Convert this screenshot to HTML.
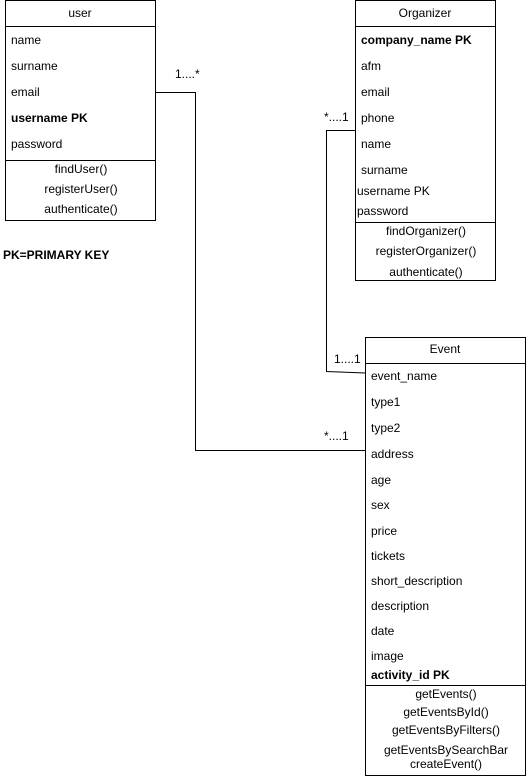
<!DOCTYPE html>
<html><head><style>body{margin:0;background:#fff}svg{display:block}text{font-family:"Liberation Sans",Arial,sans-serif;font-size:12px;fill:#000}</style></head><body>
<svg width="526" height="776" viewBox="0 0 526 776" xmlns="http://www.w3.org/2000/svg">
<g fill="none" stroke="#000" stroke-width="1">
<rect x="5.5" y="0.5" width="150" height="220"/>
<line x1="5" y1="26.5" x2="156" y2="26.5"/>
<line x1="5" y1="160.5" x2="156" y2="160.5"/>
<rect x="355.5" y="0.5" width="140" height="280"/>
<line x1="355" y1="26.5" x2="496" y2="26.5"/>
<line x1="355" y1="222.5" x2="496" y2="222.5"/>
<rect x="365.5" y="337.5" width="160" height="438"/>
<line x1="365" y1="363.5" x2="526" y2="363.5"/>
<line x1="365" y1="685.5" x2="526" y2="685.5"/>
<polyline points="156,92.5 195.5,92.5 195.5,450.5 365,450.5"/>
<polyline points="355,130.5 326.5,130.5 326.5,371.5 365,373"/>
</g>
<text x="80" y="17" text-anchor="middle">user</text>
<text x="11" y="44">name</text>
<text x="11" y="70">surname</text>
<text x="11" y="96">email</text>
<text x="11" y="122" font-weight="bold">username PK</text>
<text x="11" y="148">password</text>
<text x="81" y="173" text-anchor="middle">findUser()</text>
<text x="81" y="193" text-anchor="middle">registerUser()</text>
<text x="81" y="213" text-anchor="middle">authenticate()</text>
<text x="3" y="259" font-weight="bold" font-size="11">PK=PRIMARY KEY</text>
<text x="175" y="78">1....*</text>
<text x="425" y="17" text-anchor="middle">Organizer</text>
<text x="361" y="44" font-weight="bold">company_name PK</text>
<text x="361" y="70">afm</text>
<text x="361" y="96">email</text>
<text x="361" y="122">phone</text>
<text x="361" y="148">name</text>
<text x="361" y="174">surname</text>
<text x="357" y="195">username PK</text>
<text x="357" y="215">password</text>
<text x="426" y="235" text-anchor="middle">findOrganizer()</text>
<text x="426" y="255" text-anchor="middle">registerOrganizer()</text>
<text x="426" y="276" text-anchor="middle">authenticate()</text>
<text x="324" y="121">*....1</text>
<text x="445" y="353" text-anchor="middle">Event</text>
<text x="371" y="380">event_name</text>
<text x="371" y="406">type1</text>
<text x="371" y="432">type2</text>
<text x="371" y="458">address</text>
<text x="371" y="484">age</text>
<text x="371" y="509">sex</text>
<text x="371" y="535">price</text>
<text x="371" y="560">tickets</text>
<text x="371" y="585">short_description</text>
<text x="371" y="610">description</text>
<text x="371" y="635">date</text>
<text x="371" y="660">image</text>
<text x="371" y="679" font-weight="bold">activity_id  PK</text>
<text x="446" y="698" text-anchor="middle">getEvents()</text>
<text x="446" y="716" text-anchor="middle">getEventsById()</text>
<text x="446" y="734" text-anchor="middle">getEventsByFilters()</text>
<text x="446" y="754" text-anchor="middle">getEventsBySearchBar</text>
<text x="446" y="768" text-anchor="middle">createEvent()</text>
<text x="334" y="363">1....1</text>
<text x="324" y="440">*....1</text>
</svg>
</body></html>
